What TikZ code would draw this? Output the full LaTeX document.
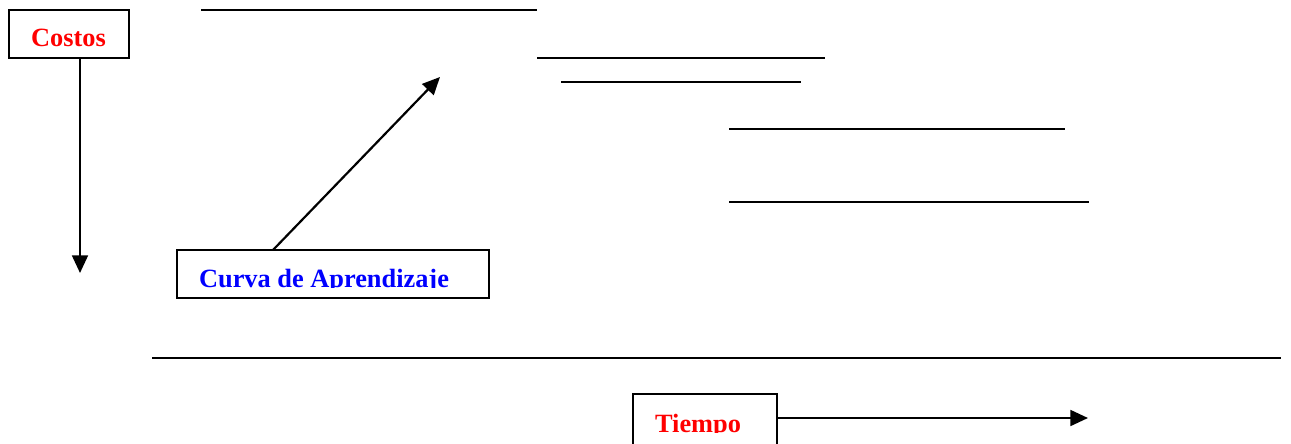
\documentclass[tikz,border=0pt]{standalone}
\usepackage{fontspec}
\setmainfont{Liberation Serif}
\usetikzlibrary{arrows.meta}
\definecolor{labelred}{RGB}{255,0,0}
\definecolor{labelblue}{RGB}{0,0,255}
\begin{document}
\begin{tikzpicture}[x=0.02cm,y=-0.02cm,
  line width=1.25pt,
  box/.style={draw=black,line width=1.25pt,fill=white,inner sep=0pt,outer sep=0pt},
  lbl/.style={font=\bfseries\fontsize{15}{15}\selectfont,inner sep=0pt,anchor=base west},
  arr/.style={-{Triangle[length=10pt,width=9pt]}}]
\useasboundingbox (0,0) rectangle (1291,443);

% level lines
\draw (201,10) -- (537,10);
\draw (537,58) -- (825,58);
\draw (561,82) -- (801,82);
\draw (729,129) -- (1065,129);
\draw (729,202) -- (1089,202);
\draw (152,358) -- (1281,358);

% Costos box and downward arrow
\node[box,minimum width=120*0.02cm,minimum height=48*0.02cm,anchor=north west] (costos) at (9,10) {};
\node[lbl,text=labelred] (costostxt) at (30,46) {Costos};
\coordinate (costosend) at (80,273);
\draw[arr] (costos.south -| costosend) -- (costosend);

% learning curve box with arrow
\node[box,minimum width=312*0.02cm,minimum height=48*0.02cm,anchor=north west] (curva) at (177,250) {};
\begin{scope}
  \clip (177,250) rectangle (489,287);
  \node[lbl,text=labelblue] (curvatxt) at (198,287) {Curva de Aprendizaje};
\end{scope}
\coordinate (curvaend) at (440,77);
\draw[arr] (273,250) -- (curvaend);

% Tiempo box and arrow
\node[box,minimum width=144*0.02cm,minimum height=52*0.02cm,anchor=north west] (tiempo) at (633,394) {};
\begin{scope}
  \clip (633,394) rectangle (777,432);
  \node[lbl,text=labelred] (tiempotxt) at (654,432) {Tiempo};
\end{scope}
\coordinate (tiempoend) at (1088,418);
\draw[arr] (tiempo.east |- tiempoend) -- (tiempoend);
\end{tikzpicture}
\end{document}
